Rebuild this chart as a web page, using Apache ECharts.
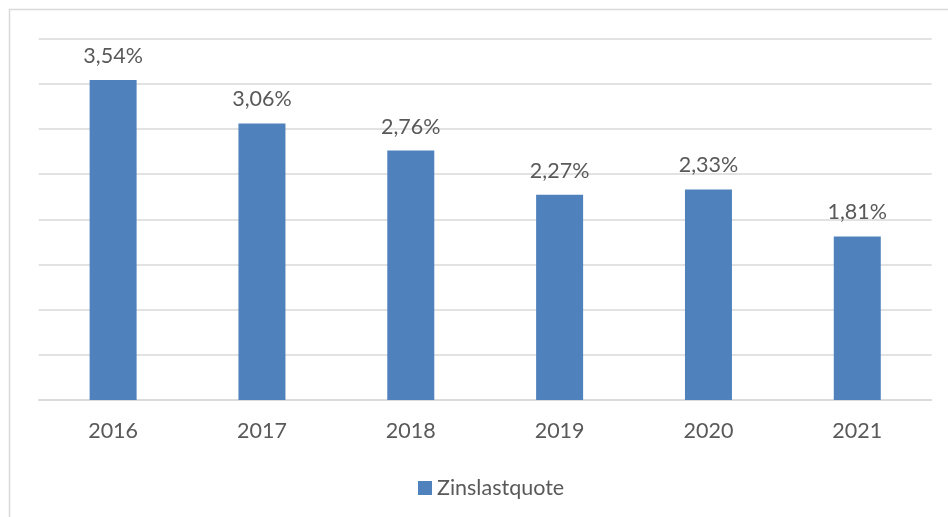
<!DOCTYPE html>
<html>
<head>
<meta charset="utf-8">
<script src="https://cdn.jsdelivr.net/npm/echarts@6/dist/echarts.min.js"></script>
<style>html,body{margin:0;padding:0;background:#fff;}#c{width:948px;height:517px;}</style>
</head>
<body>
<div id="c"></div>
<script>
var categories = ['2016', '2017', '2018', '2019', '2020', '2021'];
var seriesName = 'Zinslastquote';
var values = [3.54, 3.06, 2.76, 2.27, 2.33, 1.81];

var chart = echarts.init(document.getElementById('c'), null, {renderer: 'canvas'});
var fontFam = 'Lato, "Open Sans", sans-serif';
chart.setOption({
  animation: false,
  backgroundColor: '#ffffff',
  graphic: [{
    type: 'rect',
    shape: {x: 9.5, y: 9.5, width: 1000, height: 600},
    style: {fill: 'none', stroke: '#D9D9D9', lineWidth: 1.5},
    silent: true
  }],
  grid: {left: 38.7, right: 16.3, top: 38.5, bottom: 117, containLabel: false},
  legend: {
    data: [seriesName],
    left: 413, top: 472,
    itemWidth: 14, itemHeight: 14, itemGap: 4,
    icon: 'rect',
    textStyle: {color: '#595959', fontSize: 21.5, fontFamily: fontFam}
  },
  xAxis: {
    type: 'category',
    data: categories,
    axisLine: {lineStyle: {color: '#D9D9D9', width: 1.5}},
    axisTick: {show: false},
    axisLabel: {color: '#595959', fontSize: 21.5, fontFamily: fontFam, margin: 20}
  },
  yAxis: {
    type: 'value',
    min: 0, max: 4, interval: 0.5,
    axisLine: {show: false},
    axisTick: {show: false},
    axisLabel: {show: false},
    splitLine: {lineStyle: {color: '#D9D9D9', width: 1.5}}
  },
  series: [{
    name: seriesName,
    type: 'bar',
    data: values,
    barWidth: 47,
    itemStyle: {color: '#4F81BD'},
    label: {
      show: true,
      position: 'top',
      distance: 13,
      color: '#595959',
      fontSize: 21.5,
      fontFamily: fontFam,
      formatter: function (p) { return p.value.toFixed(2).replace('.', ',') + '%'; }
    }
  }]
});
</script>
</body>
</html>
